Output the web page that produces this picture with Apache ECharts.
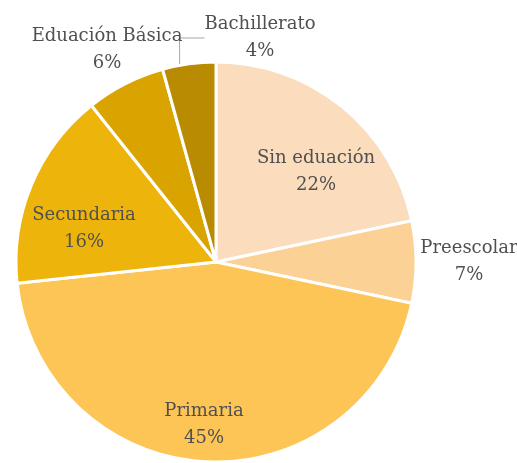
<!DOCTYPE html>
<html><head><meta charset="utf-8">
<script src="https://cdn.jsdelivr.net/npm/echarts@6/dist/echarts.min.js"></script>
<style>html,body{margin:0;padding:0;background:#fff}#c{width:517px;height:463px}</style>
</head><body><div id="c"></div>
<script>
const categories = ['Sin eduación', 'Preescolar', 'Primaria', 'Secundaria', 'Eduación Básica', 'Bachillerato'];
const values = [21.7, 6.6, 45.0, 16.0, 6.4, 4.3];
const colors = ['#FBDCBC', '#FBD196', '#FDC456', '#EDB40C', '#D9A400', '#B98B00'];
// label block centre offsets from pie centre (px)
const labelOffsets = [[100, -90], [253, 0], [-12, 163], [-132, -33], [-109, -212], [44, -224]];
const CX = 216, CY = 262, R = 200;
const FONT = 'DejaVu Serif';

const chart = echarts.init(document.getElementById('c'));
chart.setOption({
  animation: false,
  series: [{
    type: 'pie',
    center: [CX, CY],
    radius: R,
    startAngle: 90,
    clockwise: true,
    avoidLabelOverlap: false,
    itemStyle: { borderColor: '#fff', borderWidth: 3 },
    label: {
      show: true,
      position: 'inside',
      formatter: function (p) { return p.name + '\n' + Math.round(p.percent) + '%'; },
      fontFamily: FONT,
      fontSize: 18,
      lineHeight: 27,
      color: '#505050',
      align: 'center'
    },
    labelLine: { show: false },
    labelLayout: function (p) {
      const o = labelOffsets[p.dataIndex];
      const res = { x: CX + o[0], y: CY + o[1], align: 'center', verticalAlign: 'middle' };
      if (p.dataIndex === 5) {
        res.labelLinePoints = [[CX - 25, CY - 199], [CX - 25, CY - 230], [CX - 14, CY - 230]];
      }
      return res;
    },
    data: categories.map((n, i) => ({
      name: n, value: values[i], itemStyle: { color: colors[i] },
      labelLine: i === 5 ? { show: true, lineStyle: { color: '#a6a6a6', width: 1 } } : { show: false }
    }))
  }]
});
</script></body></html>
